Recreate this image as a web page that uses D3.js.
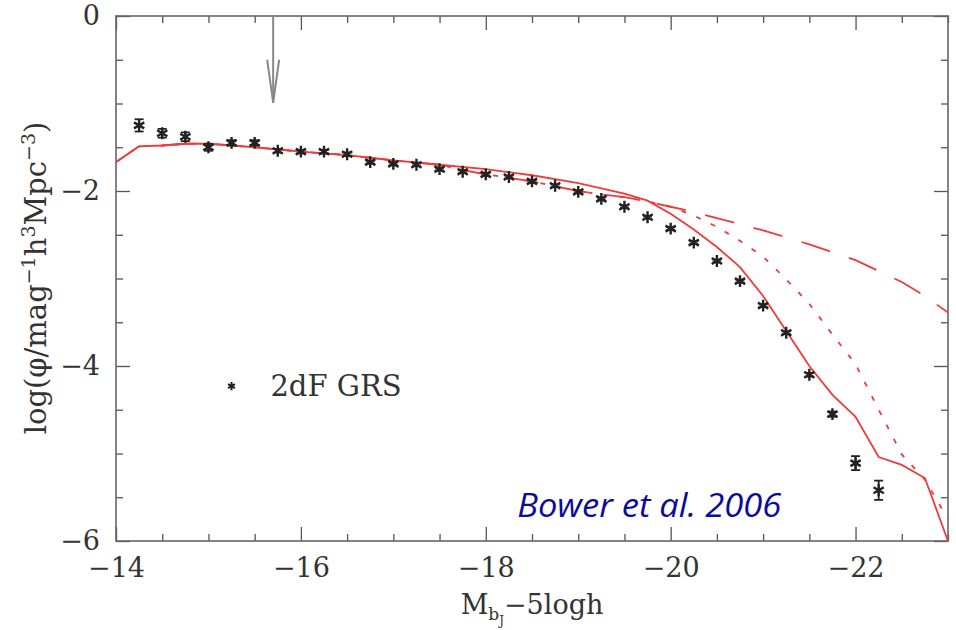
<!DOCTYPE html>
<html>
<head>
<meta charset="utf-8">
<script src="https://cdn.jsdelivr.net/npm/d3@7"></script>
<style>
  html, body { margin: 0; padding: 0; background: #fff; }
  svg { display: block; }
  .tick text { font-family: "DejaVu Serif", serif; fill: #333; }
</style>
</head>
<body>
<svg id="chart" width="956" height="630"></svg>
<script>
// 2dF GRS luminosity function points (bJ band)
const grsMag = [-14.25, -14.5, -14.75, -15, -15.25, -15.5, -15.75, -16, -16.25, -16.5,
  -16.75, -17, -17.25, -17.5, -17.75, -18, -18.25, -18.5, -18.75, -19,
  -19.25, -19.5, -19.75, -20, -20.25, -20.5, -20.75, -21, -21.25, -21.5,
  -21.75, -22, -22.25];
const grsLogPhi = [-1.25, -1.34, -1.38, -1.50, -1.45, -1.45, -1.54, -1.55, -1.55, -1.58,
  -1.67, -1.69, -1.70, -1.75, -1.78, -1.81, -1.84, -1.89, -1.94, -2.01,
  -2.09, -2.18, -2.30, -2.43, -2.59, -2.80, -3.03, -3.31, -3.62, -4.10,
  -4.55, -5.11, -5.42];
const grsErr = [0.07, 0.05, 0.05, 0.04, 0.03, 0.03, 0.02, 0.02, 0.02, 0.02,
  0.015, 0.015, 0.015, 0.015, 0.015, 0.015, 0.015, 0.015, 0.015, 0.015,
  0.015, 0.015, 0.015, 0.015, 0.015, 0.015, 0.015, 0.015, 0.015, 0.02,
  0.03, 0.08, 0.11];

// model curves
const solidMag = [-14, -14.25, -14.5, -14.75, -15, -15.5, -16, -16.5, -17, -17.5, -18, -18.5, -19,
  -19.5, -19.75, -20, -20.25, -20.5, -20.75, -21, -21.25, -21.5, -21.75, -22, -22.25,
  -22.5, -22.75, -23];
const solidLogPhi = [-1.67, -1.49, -1.48, -1.46, -1.46, -1.50, -1.55, -1.59, -1.65, -1.70, -1.75, -1.82, -1.91,
  -2.03, -2.11, -2.26, -2.44, -2.64, -2.87, -3.20, -3.60, -4.00, -4.33, -4.58, -5.04,
  -5.13, -5.28, -6.00];

const dashedMag = [-14, -14.25, -14.5, -14.75, -15, -15.5, -16, -16.5, -17, -17.5, -17.75, -18, -18.5,
  -19, -19.25, -19.5, -19.75, -20, -20.25, -20.5, -20.75, -21, -21.5, -22, -22.5, -22.75, -23];
const dashedLogPhi = [-1.67, -1.49, -1.48, -1.46, -1.46, -1.50, -1.55, -1.59, -1.65, -1.70, -1.76, -1.81, -1.89,
  -2.00, -2.04, -2.07, -2.12, -2.18, -2.24, -2.31, -2.38, -2.45, -2.61, -2.79, -3.04, -3.20, -3.39];

const dottedMag = [-14, -14.25, -14.5, -14.75, -15, -15.5, -16, -16.5, -17, -17.5, -17.75, -18, -18.5,
  -19, -19.25, -19.5, -19.75, -20, -20.25, -20.5, -20.75, -21, -21.25, -21.5, -21.75,
  -22, -22.25, -22.5, -22.75, -23];
const dottedLogPhi = [-1.67, -1.49, -1.48, -1.46, -1.46, -1.50, -1.55, -1.59, -1.65, -1.70, -1.76, -1.81, -1.89,
  -2.00, -2.04, -2.07, -2.12, -2.18, -2.28, -2.41, -2.57, -2.75, -3.01, -3.29, -3.64,
  -3.98, -4.50, -5.01, -5.30, -5.75];

const xMajor = [-14, -16, -18, -20, -22];
const yMajor = [0, -2, -4, -6];
const arrowMag = -15.7;

const svg = d3.select('#chart');
const width = 956, height = 630;
const margin = { top: 16, right: 8, bottom: 89, left: 116 };

const x = d3.scaleLinear().domain([-14, -23]).range([margin.left, width - margin.right]);
const y = d3.scaleLinear().domain([0, -6]).range([margin.top, height - margin.bottom]);

const red = '#ef3b3b';
const axisCol = '#555';

svg.append('defs').append('clipPath').attr('id', 'plotClip')
  .append('rect')
  .attr('x', x(-14)).attr('y', y(0))
  .attr('width', x(-23) - x(-14)).attr('height', y(-6) - y(0));

const xMinor = d3.range(-14, -23.01, -0.5).filter(v => !xMajor.includes(v));
const yMinor = d3.range(0, -6.01, -0.5).filter(v => !yMajor.includes(v));
const fmt = d3.format('d');

function styleAxis(g) {
  g.select('.domain').remove();
  g.selectAll('line').attr('stroke', axisCol).attr('stroke-width', 1.3);
}

// bottom
svg.append('g').attr('transform', `translate(0,${y(-6)})`)
  .call(d3.axisBottom(x).tickValues(xMajor).tickSize(-14).tickPadding(17).tickFormat(fmt))
  .call(styleAxis)
  .call(g => g.selectAll('text').attr('font-size', 27));
svg.append('g').attr('transform', `translate(0,${y(-6)})`)
  .call(d3.axisBottom(x).tickValues(xMinor).tickSize(-7).tickFormat(''))
  .call(styleAxis);
// top
svg.append('g').attr('transform', `translate(0,${y(0)})`)
  .call(d3.axisTop(x).tickValues(xMajor).tickSize(-14).tickFormat(''))
  .call(styleAxis);
svg.append('g').attr('transform', `translate(0,${y(0)})`)
  .call(d3.axisTop(x).tickValues(xMinor).tickSize(-7).tickFormat(''))
  .call(styleAxis);
// left
svg.append('g').attr('transform', `translate(${x(-14)},0)`)
  .call(d3.axisLeft(y).tickValues(yMajor).tickSize(-14).tickPadding(16).tickFormat(fmt))
  .call(styleAxis)
  .call(g => g.selectAll('text').attr('font-size', 27));
svg.append('g').attr('transform', `translate(${x(-14)},0)`)
  .call(d3.axisLeft(y).tickValues(yMinor).tickSize(-7).tickFormat(''))
  .call(styleAxis);
// right
svg.append('g').attr('transform', `translate(${x(-23)},0)`)
  .call(d3.axisRight(y).tickValues(yMajor).tickSize(-14).tickFormat(''))
  .call(styleAxis);
svg.append('g').attr('transform', `translate(${x(-23)},0)`)
  .call(d3.axisRight(y).tickValues(yMinor).tickSize(-7).tickFormat(''))
  .call(styleAxis);

// frame
svg.append('rect')
  .attr('x', x(-14)).attr('y', y(0))
  .attr('width', x(-23) - x(-14)).attr('height', y(-6) - y(0))
  .attr('fill', 'none').attr('stroke', '#666').attr('stroke-width', 1.6);

// model lines
const line = d3.line().x(d => x(d[0])).y(d => y(d[1]));
const plot = svg.append('g').attr('clip-path', 'url(#plotClip)');

plot.append('path')
  .datum(d3.zip(dashedMag, dashedLogPhi))
  .attr('fill', 'none').attr('stroke', red).attr('stroke-width', 1.8)
  .attr('stroke-dasharray', '30,20')
  .attr('d', line);
plot.append('path')
  .datum(d3.zip(dottedMag, dottedLogPhi))
  .attr('fill', 'none').attr('stroke', red).attr('stroke-width', 1.8)
  .attr('stroke-dasharray', '5,11')
  .attr('d', line);
plot.append('path')
  .datum(d3.zip(solidMag, solidLogPhi))
  .attr('fill', 'none').attr('stroke', red).attr('stroke-width', 1.8)
  .attr('d', line);

// data points with error bars
const pts = grsMag.map((m, i) => ({ m, v: grsLogPhi[i], e: grsErr[i] }));
const star = d3.symbol().type(d3.symbolAsterisk).size(100);
const ptG = svg.append('g');
const eb = ptG.selectAll('g.eb').data(pts).join('g').attr('class', 'eb')
  .attr('stroke', '#222').attr('stroke-width', 1.8);
eb.append('line')
  .attr('x1', d => x(d.m)).attr('x2', d => x(d.m))
  .attr('y1', d => y(d.v + d.e)).attr('y2', d => y(d.v - d.e));
eb.append('line')
  .attr('x1', d => x(d.m) - 4.5).attr('x2', d => x(d.m) + 4.5)
  .attr('y1', d => y(d.v + d.e)).attr('y2', d => y(d.v + d.e));
eb.append('line')
  .attr('x1', d => x(d.m) - 4.5).attr('x2', d => x(d.m) + 4.5)
  .attr('y1', d => y(d.v - d.e)).attr('y2', d => y(d.v - d.e));
ptG.selectAll('path.star').data(pts).join('path').attr('class', 'star')
  .attr('transform', d => `translate(${x(d.m)},${y(d.v)})`)
  .attr('d', star)
  .attr('fill', 'none').attr('stroke', '#222').attr('stroke-width', 2.4);

// arrow marking the magnitude limit
const arrowG = svg.append('g').attr('stroke', '#888').attr('stroke-width', 2).attr('fill', 'none');
arrowG.append('line')
  .attr('x1', x(arrowMag)).attr('x2', x(arrowMag))
  .attr('y1', y(0)).attr('y2', y(-0.99));
arrowG.append('path')
  .attr('d', `M${x(arrowMag) - 6},${y(-0.5)} L${x(arrowMag)},${y(-0.99)} L${x(arrowMag) + 6},${y(-0.5)}`);

// legend
svg.append('path')
  .attr('transform', `translate(${x(-15.25)},${y(-4.23)})`)
  .attr('d', d3.symbol().type(d3.symbolAsterisk).size(45)())
  .attr('fill', 'none').attr('stroke', '#222').attr('stroke-width', 2);
svg.append('text')
  .attr('x', x(-15.67)).attr('y', y(-4.34))
  .attr('font-family', '"DejaVu Serif", serif').attr('font-size', 29)
  .attr('fill', '#333')
  .text('2dF GRS');

// citation
svg.append('text')
  .attr('x', x(-18.34)).attr('y', y(-5.72))
  .attr('font-family', '"Open Sans", sans-serif').attr('font-style', 'italic')
  .attr('font-size', 33).attr('fill', '#0c0c9a')
  .attr('textLength', 264).attr('lengthAdjust', 'spacingAndGlyphs')
  .text('Bower et al. 2006');

// axis titles
const xt = svg.append('text')
  .attr('x', 532).attr('y', 614)
  .attr('text-anchor', 'middle')
  .attr('font-family', '"DejaVu Serif", serif').attr('font-size', 27)
  .attr('fill', '#333');
xt.append('tspan').text('M');
xt.append('tspan').attr('font-size', 17).attr('dy', 6).text('b');
xt.append('tspan').attr('font-size', 12).attr('dy', 5).text('J');
xt.append('tspan').attr('dy', -11).text('\u22125logh');

const yt = svg.append('text')
  .attr('transform', 'translate(46,278) rotate(-90)')
  .attr('text-anchor', 'middle')
  .attr('font-family', '"DejaVu Serif", serif').attr('font-size', 29)
  .attr('fill', '#333');
yt.append('tspan').text('log(\u03C6/mag');
yt.append('tspan').attr('font-size', 19).attr('dy', -11).text('\u22121');
yt.append('tspan').attr('dy', 11).text('h');
yt.append('tspan').attr('font-size', 19).attr('dy', -11).text('3');
yt.append('tspan').attr('dy', 11).text('Mpc');
yt.append('tspan').attr('font-size', 19).attr('dy', -11).text('\u22123');
yt.append('tspan').attr('dy', 11).text(')');
</script>
</body>
</html>
